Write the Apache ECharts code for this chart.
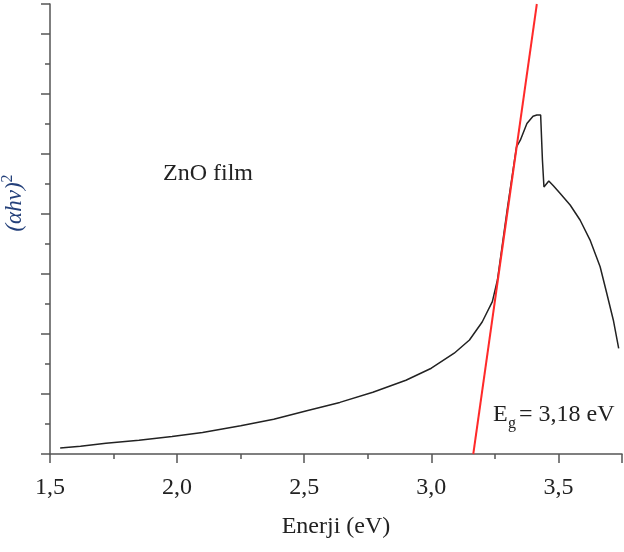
<!DOCTYPE html>
<html>
<head>
<meta charset="utf-8">
<script src="https://cdn.jsdelivr.net/npm/echarts@6/dist/echarts.min.js"></script>
<style>
html,body{margin:0;padding:0;background:#fff;}
#c{width:624px;height:552px;}
</style>
</head>
<body>
<div id="c"></div>
<script>
// Energy (eV) of the measured curve
var energy = [1.54,1.62,1.72,1.85,1.98,2.10,2.25,2.38,2.51,2.64,2.77,2.90,3.00,3.09,3.15,3.20,3.24,3.26,3.30,3.335,3.35,3.376,3.40,3.415,3.43,3.437,3.443,3.45,3.462,3.48,3.507,3.546,3.585,3.624,3.664,3.69,3.716,3.737];
// (alpha h nu)^2, arbitrary units
var absorb = [0.10,0.13,0.18,0.23,0.29,0.36,0.47,0.58,0.72,0.86,1.03,1.23,1.43,1.68,1.90,2.20,2.54,2.90,4.12,5.12,5.23,5.51,5.63,5.65,5.65,4.90,4.45,4.42,4.55,4.47,4.34,4.15,3.90,3.57,3.12,2.68,2.23,1.76];
// Tauc fit line end points
var fitX = [3.165, 3.415];
var fitY = [0, 7.5];
var xTicks = ['1,5','2,0','2,5','3,0','3,5'];

var curve = energy.map(function(e,i){return [e, absorb[i]];});
var fit = fitX.map(function(e,i){return [e, fitY[i]];});
var FONT = '"Liberation Serif","Times New Roman",serif';

var chart = echarts.init(document.getElementById('c'));
chart.setOption({
  animation:false,
  backgroundColor:'#fff',
  grid:{left:50,right:2,top:4,bottom:98,containLabel:false},
  xAxis:{
    type:'value',min:1.5,max:3.75,interval:0.5,
    name:'Enerji (eV)',nameLocation:'middle',nameGap:61,
    nameTextStyle:{fontFamily:FONT,fontSize:24,color:'#222'},
    axisLine:{lineStyle:{color:'#555',width:1.5}},
    axisTick:{show:true,inside:false,length:9,lineStyle:{color:'#555',width:1.5}},
    minorTick:{show:true,splitNumber:2,length:5,lineStyle:{color:'#555',width:1.5}},
    splitLine:{show:false},
    axisLabel:{margin:22,fontFamily:FONT,fontSize:24,color:'#222',showMaxLabel:false,
      formatter:function(v){var i=Math.round((v-1.5)/0.5);return (Math.abs(v-(1.5+i*0.5))<1e-6 && xTicks[i])?xTicks[i]:'';}}
  },
  yAxis:{
    type:'value',min:0,max:7.5,interval:1,
    axisLine:{show:true,lineStyle:{color:'#555',width:1.5}},
    axisTick:{show:true,inside:false,length:9,lineStyle:{color:'#555',width:1.5}},
    minorTick:{show:true,splitNumber:2,length:5,lineStyle:{color:'#555',width:1.5}},
    splitLine:{show:false},
    axisLabel:{show:false}
  },
  series:[
    {type:'line',data:curve,symbol:'none',smooth:false,z:2,
     lineStyle:{color:'#222',width:1.5}},
    {type:'line',data:fit,symbol:'none',z:3,
     lineStyle:{color:'#ff2a2a',width:2}}
  ],
  graphic:[
    {type:'text',x:13,y:203,rotation:Math.PI/2,
     style:{text:'{a|(αhν)}{b|2}',align:'center',verticalAlign:'middle',fill:'#24407a',
       rich:{a:{fontFamily:FONT,fontStyle:'italic',fontSize:23,lineHeight:26,verticalAlign:'bottom',fill:'#24407a'},
             b:{fontFamily:FONT,fontSize:16,lineHeight:26,verticalAlign:'top',fill:'#24407a'}}}},
    {type:'text',x:163,y:174,
     style:{text:'ZnO film',align:'left',verticalAlign:'middle',font:'24px '+FONT,fill:'#222'}},
    {type:'text',x:493,y:415,
     style:{text:'E',align:'left',verticalAlign:'middle',font:'24px '+FONT,fill:'#222'}},
    {type:'text',x:508,y:424,
     style:{text:'g',align:'left',verticalAlign:'middle',font:'16px '+FONT,fill:'#222'}},
    {type:'text',x:519,y:415,
     style:{text:'= 3,18 eV',align:'left',verticalAlign:'middle',font:'24px '+FONT,fill:'#222'}}
  ]
});
</script>
</body>
</html>
